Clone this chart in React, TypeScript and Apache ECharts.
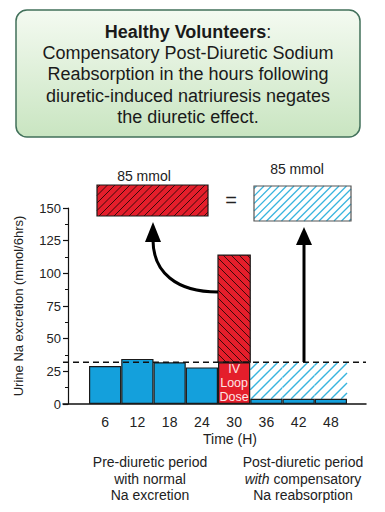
import React, { useEffect, useRef } from "react";
import * as echarts from "echarts";

// ---- data ----
const times = ["6", "12", "18", "24", "30", "36", "42", "48"];
const naExcretion = [29, 34.5, 32, 28, 114, 4, 4, 4];
const doseIndex = 4;
const baselineLevel = 32;
const postIndices = [5, 6, 7];
const yMax = 150;
const yInterval = 25;
const summaryLabels = ["85 mmol", "85 mmol"];
const titleLines = [
  "Compensatory Post-Diuretic Sodium",
  "Reabsorption in the hours following",
  "diuretic-induced natriuresis negates",
  "the diuretic effect.",
];
const preLines = ["Pre-diuretic period", "with normal", "Na excretion"];
const postLines = ["Post-diuretic period", "{i|with} compensatory", "Na reabsorption"];

const FONT = "'Liberation Sans', Arial, Helvetica, sans-serif";
const BLUE = "#14a0dc";
const RED = "#e41e2b";
const HATCH_BLUE = "#38b4de";
const HATCH_DARK = "#3a0a0a";
const EDGE = "#1a1a1a";

function hatch(x0: number, y0: number, x1: number, y1: number, step: number, dir: string, stroke: string, lw: number) {
  const out: any[] = [];
  if (dir === "/") {
    const cmin = x0 + y0, cmax = x1 + y1;
    for (let c = Math.ceil(cmin / step) * step; c <= cmax; c += step) {
      const xa = Math.max(x0, c - y1), xb = Math.min(x1, c - y0);
      if (xb - xa > 0.5) out.push({ type: "line", silent: true, shape: { x1: xa, y1: c - xa, x2: xb, y2: c - xb }, style: { stroke, lineWidth: lw } });
    }
  } else {
    const cmin = x0 - y1, cmax = x1 - y0;
    for (let c = Math.ceil(cmin / step) * step; c <= cmax; c += step) {
      const xa = Math.max(x0, c + y0), xb = Math.min(x1, c + y1);
      if (xb - xa > 0.5) out.push({ type: "line", silent: true, shape: { x1: xa, y1: xa - c, x2: xb, y2: xb - c }, style: { stroke, lineWidth: lw } });
    }
  }
  return out;
}

function hatchedBox(x: number, y: number, w: number, h: number, fill: string, stroke: string, hatchColor: string, step: number, lw: number, dir: string) {
  return [
    { type: "rect", silent: true, shape: { x, y, width: w, height: h }, style: { fill, stroke: "none" } },
    ...hatch(x, y, x + w, y + h, step, dir, hatchColor, lw),
    { type: "rect", silent: true, shape: { x, y, width: w, height: h }, style: { fill: "none", stroke, lineWidth: 1.2 } },
  ];
}

export default function App() {
  const ref = useRef<HTMLDivElement>(null);
  useEffect(() => {
    const chart = echarts.init(ref.current!, null, { renderer: "svg", width: 385, height: 512 });

    const barData = naExcretion.map((v, i) =>
      i === doseIndex
        ? {
            value: Math.min(v, baselineLevel),
            itemStyle: { color: RED },
            label: {
              show: true,
              position: "inside",
              formatter: "IV\nLoop\nDose",
              color: "#fde6e6",
              fontSize: 12.5,
              lineHeight: 14,
              fontFamily: FONT,
            },
          }
        : v
    );

    const titleGraphics: any[] = [
      {
        type: "rect",
        shape: { x: 16, y: 10, width: 344, height: 127, r: 11 },
        style: {
          fill: new echarts.graphic.LinearGradient(0, 0, 0, 1, [
            { offset: 0, color: "#f4faf1" },
            { offset: 1, color: "#c9e5c1" },
          ]),
          stroke: "#41705a",
          lineWidth: 1.5,
        },
      },
      {
        type: "text",
        x: 188,
        y: 32,
        style: {
          text: "{b|Healthy Volunteers}:",
          align: "center",
          verticalAlign: "middle",
          fontSize: 18,
          fontFamily: FONT,
          fill: "#1a1a1a",
          rich: { b: { fontWeight: "bold", fontSize: 18, fontFamily: FONT, fill: "#1a1a1a" } },
        },
      },
      ...titleLines.map((t, i) => ({
        type: "text",
        x: 188,
        y: 53 + i * 21.3,
        style: { text: t, align: "center", verticalAlign: "middle", fontSize: 18, fontFamily: FONT, fill: "#1a1a1a" },
      })),
    ];

    const annotationGraphics: any[] = [
      {
        type: "text",
        x: 144,
        y: 176,
        style: { text: summaryLabels[0], align: "center", verticalAlign: "middle", fontSize: 14, fontFamily: FONT, fill: "#222" },
      },
      {
        type: "text",
        x: 297,
        y: 169,
        style: { text: summaryLabels[1], align: "center", verticalAlign: "middle", fontSize: 14, fontFamily: FONT, fill: "#222" },
      },
      {
        type: "text",
        x: 231,
        y: 200,
        style: { text: "=", align: "center", verticalAlign: "middle", fontSize: 20, fontFamily: FONT, fill: "#222" },
      },
      { type: "group", children: hatchedBox(97, 185, 111, 31, RED, EDGE, HATCH_DARK, 7.5, 1, "/") },
      { type: "group", children: hatchedBox(254, 186, 97, 35, "#ffffff", "#555", HATCH_BLUE, 7.5, 1.2, "/") },
      // curved arrow
      {
        type: "bezierCurve",
        z: 10,
        shape: { x1: 218, y1: 292, cpx1: 176, cpy1: 292, cpx2: 153, cpy2: 272, x2: 153, y2: 240 },
        style: { stroke: "#000", lineWidth: 3, fill: "none" },
      },
      {
        type: "polygon",
        z: 10,
        shape: { points: [[153, 222], [145, 242], [161, 242]] },
        style: { fill: "#000" },
      },
      // vertical arrow
      {
        type: "line",
        z: 10,
        shape: { x1: 304, y1: 362, x2: 304, y2: 240 },
        style: { stroke: "#000", lineWidth: 3 },
      },
      {
        type: "polygon",
        z: 10,
        shape: { points: [[304, 227], [296, 245], [312, 245]] },
        style: { fill: "#000" },
      },
      {
        type: "text",
        x: 230,
        y: 439,
        style: { text: "Time (H)", align: "center", verticalAlign: "middle", fontSize: 14, fontFamily: FONT, fill: "#222" },
      },
      ...preLines.map((t, i) => ({
        type: "text",
        x: 150,
        y: 462 + i * 16.5,
        style: { text: t, align: "center", verticalAlign: "middle", fontSize: 14, fontFamily: FONT, fill: "#222" },
      })),
      ...postLines.map((t, i) => ({
        type: "text",
        x: 303,
        y: 462 + i * 16.5,
        style: {
          text: t,
          align: "center",
          verticalAlign: "middle",
          fontSize: 14,
          fontFamily: FONT,
          fill: "#222",
          rich: { i: { fontStyle: "italic", fontSize: 14, fontFamily: FONT, fill: "#222" } },
        },
      })),
    ];

    const option: any = {
      animation: false,
      backgroundColor: "#ffffff",
      textStyle: { fontFamily: FONT },
      grid: [
        { left: 89, right: 38, top: 208, bottom: 108, containLabel: false },
        { left: 63, right: 19, top: 208, bottom: 108, containLabel: false },
      ],
      xAxis: [
        {
          type: "category",
          gridIndex: 0,
          data: times,
          axisLine: { show: false },
          axisTick: { show: false },
          axisLabel: { color: "#222", fontSize: 14, margin: 11, fontFamily: FONT },
        },
        {
          type: "value",
          gridIndex: 1,
          min: 0,
          max: 1,
          axisLine: { show: true, lineStyle: { color: "#111", width: 1.5 } },
          axisTick: { show: false },
          axisLabel: { show: false },
          splitLine: { show: false },
        },
      ],
      yAxis: [
        {
          type: "value",
          gridIndex: 0,
          min: 0,
          max: yMax,
          interval: yInterval,
          offset: 21,
          name: "Urine Na excretion (mmol/6hrs)",
          nameLocation: "middle",
          nameGap: 43,
          nameTextStyle: { color: "#222", fontSize: 13, fontFamily: FONT },
          axisLine: { show: true, lineStyle: { color: "#111", width: 1.2 } },
          axisTick: { show: true, length: 5, lineStyle: { color: "#111", width: 1.2 } },
          minorTick: { show: true, splitNumber: 2, length: 3, lineStyle: { color: "#111", width: 1 } },
          axisLabel: { color: "#222", fontSize: 13, margin: 7, fontFamily: FONT },
          splitLine: { show: false },
        },
        { type: "value", gridIndex: 1, min: 0, max: yMax, show: false },
      ],
      series: [
        {
          type: "bar",
          name: "Na excretion",
          xAxisIndex: 0,
          yAxisIndex: 0,
          barCategoryGap: "0%",
          data: barData,
          itemStyle: { color: BLUE, borderColor: EDGE, borderWidth: 1.2 },
          z: 3,
        },
        {
          type: "custom",
          name: "Diuretic effect",
          xAxisIndex: 0,
          yAxisIndex: 0,
          z: 4,
          encode: { x: 0, y: [1, 2] },
          data: [[doseIndex, baselineLevel, naExcretion[doseIndex]]],
          renderItem: (params: any, api: any) => {
            const idx = api.value(0);
            const lo = api.coord([idx, api.value(1)]);
            const hi = api.coord([idx, api.value(2)]);
            const w = api.size([1, 0])[0];
            const x = lo[0] - w / 2;
            return { type: "group", children: hatchedBox(x, hi[1], w, lo[1] - hi[1], RED, EDGE, HATCH_DARK, 8, 1, "\\") };
          },
        },
        {
          type: "custom",
          name: "Compensatory reabsorption",
          xAxisIndex: 0,
          yAxisIndex: 0,
          z: 2,
          encode: { x: 0, y: [1, 2] },
          data: postIndices.map((i) => [i, naExcretion[i], baselineLevel]),
          renderItem: (params: any, api: any) => {
            const idx = api.value(0);
            const lo = api.coord([idx, api.value(1)]);
            const hi = api.coord([idx, api.value(2)]);
            const w = api.size([1, 0])[0];
            const x = lo[0] - w / 2;
            return {
              type: "group",
              children: [
                { type: "rect", shape: { x, y: hi[1], width: w, height: lo[1] - hi[1] }, style: { fill: "#fff" } },
                ...hatch(x, hi[1], x + w, lo[1], 10, "/", HATCH_BLUE, 1.4),
              ],
            };
          },
        },
        {
          type: "line",
          name: "Baseline",
          xAxisIndex: 1,
          yAxisIndex: 1,
          z: 6,
          symbol: "none",
          data: [[0, baselineLevel], [1, baselineLevel]],
          lineStyle: { color: "#111", width: 1.6, type: [6, 4] },
        },
      ],
      graphic: [...titleGraphics, ...annotationGraphics],
    };

    chart.setOption(option);
    return () => chart.dispose();
  }, []);
  return <div ref={ref} style={{ width: 385, height: 512, position: "absolute", left: 0, top: 0 }} />;
}
